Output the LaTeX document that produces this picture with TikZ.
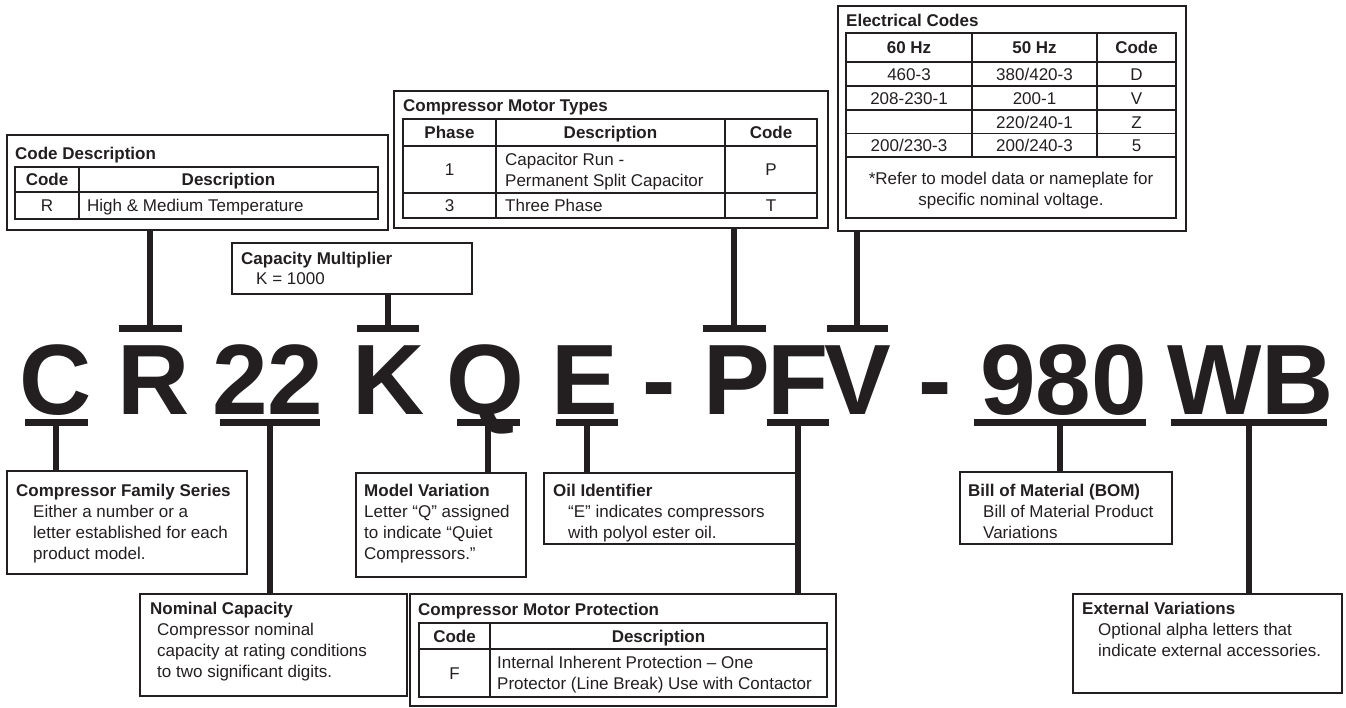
\documentclass[tikz,border=0pt]{standalone}
\usepackage{fontspec}
\setmainfont{Liberation Sans}
\usetikzlibrary{positioning}
\definecolor{ink}{RGB}{35,31,32}

\begin{document}
\begin{tikzpicture}[x=1pt, y=-1pt,
  box/.style={draw=ink, line width=1.5pt, anchor=north west, inner sep=0pt},
  grid/.style={draw=ink, line width=1.2pt},
  title/.style={font=\fontsize{17}{21}\selectfont\bfseries, text=ink, anchor=base west, inner sep=0pt},
  body/.style={font=\fontsize{17}{21}\selectfont, text=ink, anchor=base west, inner sep=0pt, align=left},
  cell/.style={font=\fontsize{17}{21}\selectfont, text=ink, anchor=base, inner sep=0pt},
  head/.style={cell, font=\fontsize{17}{21}\selectfont\bfseries},
  big/.style={font=\fontsize{100}{100}\selectfont\bfseries, text=ink, anchor=base, inner sep=0pt},
  bar/.style={fill=ink, inner sep=0pt, minimum height=7pt},
  link/.style={draw=ink, line width=6pt},
]
\useasboundingbox (0,0) rectangle (1346,707);

% model number
\node[big] (lC)   at (55.5,414)  {C};
\node[big] (lR)   at (153.5,414) {R};
\node[big] (l22)  at (268,414)   {22};
\node[big] (lK)   at (389,414)   {K};
\node[big] (lQ)   at (485.5,414) {Q};
\node[big] (lE)   at (584.5,414) {E};
\node[big] (dA)   at (659,414)   {-};
\node[big] (lP)   at (736.5,414) {P};
\node[big] (lF)   at (798,414)   {F};
\node[big] (lV)   at (857.5,414) {V};
\node[big] (dB)   at (935,414)   {-};
\node[big] (l980) at (1063.5,414) {980};
\node[big] (lWB)  at (1250.5,414) {WB};

\node[bar, minimum width=63pt]  (bR)   at (150,328.5) {};
\node[bar, minimum width=62pt]  (bK)   at (388,328.5) {};
\node[bar, minimum width=63pt]  (bP)   at (734,328.5) {};
\node[bar, minimum width=61pt]  (bV)   at (857,328.5) {};
\node[bar, minimum width=63pt]  (bC)   at (56,422) {};
\node[bar, minimum width=100pt] (b22)  at (270,422) {};
\node[bar, minimum width=63pt]  (bQ)   at (488,422) {};
\node[bar, minimum width=62pt]  (bE)   at (587,422) {};
\node[bar, minimum width=62pt]  (bF)   at (798,422) {};
\node[bar, minimum width=172pt] (b980) at (1060,422) {};
\node[bar, minimum width=156pt] (bWB)  at (1249,422) {};

% code description
\node[box, minimum width=381pt, minimum height=95pt] (CD) at (6,134) {};
\node[title] at (15,159) {Code Description};
\draw[grid] (15,167) rectangle (378,219) (15,192) -- (378,192) (79,167) -- (79,219);
\node[head] at (47,185.5) {Code};
\node[head] at (228.5,185.5) {Description};
\node[cell] at (47,211.5) {R};
\node[body] at (87,211.5) {High \& Medium Temperature};

% compressor motor types
\node[box, minimum width=434pt, minimum height=137pt] (MT) at (393,90) {};
\node[title] at (403,111) {Compressor Motor Types};
\draw[grid] (403,119) rectangle (817,218) (403,146) -- (817,146) (403,193) -- (817,193)
  (496,119) -- (496,218) (725,119) -- (725,218);
\node[head] at (449.5,138.5) {Phase};
\node[head] at (610.5,138.5) {Description};
\node[head] at (771,138.5) {Code};
\node[cell] at (449.5,175.5) {1};
\node[body] at (505,186) {Capacitor Run -\\Permanent Split Capacitor};
\node[cell] at (771,175.5) {P};
\node[cell] at (449.5,211.5) {3};
\node[body] at (505,211.5) {Three Phase};
\node[cell] at (771,211.5) {T};

% electrical codes
\node[box, minimum width=348pt, minimum height=225pt] (EC) at (837,5) {};
\node[title] at (846,26) {Electrical Codes};
\draw[grid] (846,33) rectangle (1176,218) (846,62) -- (1176,62) (846,86) -- (1176,86)
  (846,110) -- (1176,110) (846,133.5) -- (1176,133.5) (846,157) -- (1176,157)
  (972,33) -- (972,157) (1097,33) -- (1097,157);
\node[head] at (909,53.5) {60 Hz};
\node[head] at (1034.5,53.5) {50 Hz};
\node[head] at (1136.5,53.5) {Code};
\node[cell] at (909,80) {460-3};
\node[cell] at (1034.5,80) {380/420-3};
\node[cell] at (1136.5,80) {D};
\node[cell] at (909,104) {208-230-1};
\node[cell] at (1034.5,104) {200-1};
\node[cell] at (1136.5,104) {V};
\node[cell] at (1034.5,128) {220/240-1};
\node[cell] at (1136.5,128) {Z};
\node[cell] at (909,151) {200/230-3};
\node[cell] at (1034.5,151) {200/240-3};
\node[cell] at (1136.5,151) {5};
\node[cell, align=center] at (1011,205) {*Refer to model data or nameplate for\\specific nominal voltage.};

% capacity multiplier
\node[box, minimum width=240pt, minimum height=51pt] (CM) at (231,242) {};
\node[title] at (241,264) {Capacity Multiplier};
\node[body] at (256,284) {K = 1000};

% lower boxes
\node[box, minimum width=240pt, minimum height=103pt] (FS) at (6,470) {};
\node[title] at (16,496) {Compressor Family Series};
\node[body] at (33,559) {Either a number or a\\letter established for each\\product model.};

\node[box, minimum width=170pt, minimum height=104pt] (MV) at (355,472) {};
\node[title] at (364,496) {Model Variation};
\node[body] at (364,559) {Letter “Q” assigned\\to indicate “Quiet\\Compressors.”};

\node[box, minimum width=252pt, minimum height=71pt] (OI) at (543,472) {};
\node[title] at (553,496) {Oil Identifier};
\node[body] at (568,538) {“E” indicates compressors\\with polyol ester oil.};

\node[box, minimum width=212pt, minimum height=72pt] (BOM) at (959,471) {};
\node[title] at (968,496) {Bill of Material (BOM)};
\node[body] at (983,538) {Bill of Material Product\\Variations};

\node[box, minimum width=267pt, minimum height=102pt] (NC) at (139,593) {};
\node[title] at (150,614) {Nominal Capacity};
\node[body] at (157,677) {Compressor nominal\\capacity at rating conditions\\to two significant digits.};

\node[box, minimum width=426pt, minimum height=112pt] (MP) at (409,593) {};
\node[title] at (418,615) {Compressor Motor Protection};
\draw[grid] (419,623) rectangle (827,697) (419,649) -- (827,649) (490,623) -- (490,697);
\node[head] at (454.5,642) {Code};
\node[head] at (658.5,642) {Description};
\node[cell] at (454.5,679) {F};
\node[body] at (497,689.5) {Internal Inherent Protection – One\\Protector (Line Break) Use with Contactor};

\node[box, minimum width=269pt, minimum height=99pt] (EV) at (1072,593) {};
\node[title] at (1082,614) {External Variations};
\node[body] at (1098,656) {Optional alpha letters that\\indicate external accessories.};

% connectors
\draw[link] (bR.north) -- (bR.north |- CD.south);
\draw[link] (bK.north) -- (bK.north |- CM.south);
\draw[link] (bP.north) -- (bP.north |- MT.south);
\draw[link] (bV.north) -- (bV.north |- EC.south);
\draw[link] (bC.south) -- (bC.south |- FS.north);
\draw[link] (b22.south) -- (b22.south |- NC.north);
\draw[link] (bQ.south) -- (bQ.south |- MV.north);
\draw[link] (bE.south) -- (bE.south |- OI.north);
\draw[link] (bF.south) -- (bF.south |- MP.north);
\draw[link] (b980.south) -- (b980.south |- BOM.north);
\draw[link] (bWB.south) -- (bWB.south |- EV.north);
\end{tikzpicture}
\end{document}
